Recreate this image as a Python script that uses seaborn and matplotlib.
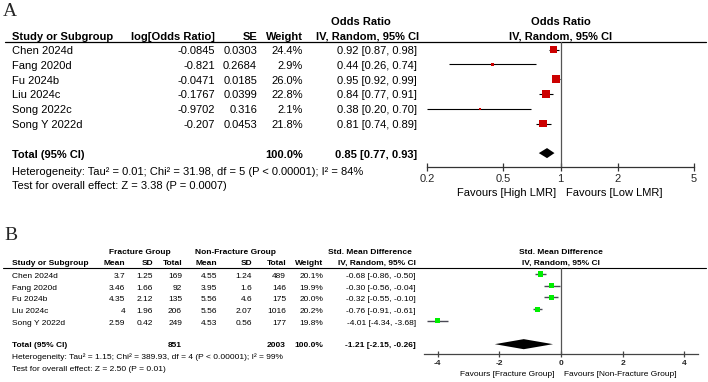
import matplotlib
matplotlib.use("Agg")
import matplotlib.pyplot as plt
import numpy as np
import pandas as pd
import seaborn as sns

# ---------------------------------------------------------------------------
# Données — panneau A (odds ratio)
# ---------------------------------------------------------------------------
studies_a = ["Chen 2024d", "Fang 2020d", "Fu 2024b", "Liu 2024c", "Song 2022c", "Song Y 2022d"]
log_or_a = ["-0.0845", "-0.821", "-0.0471", "-0.1767", "-0.9702", "-0.207"]
se_a = ["0.0303", "0.2684", "0.0185", "0.0399", "0.316", "0.0453"]
weight_a = [24.4, 2.9, 26.0, 22.8, 2.1, 21.8]
or_a = [0.92, 0.44, 0.95, 0.84, 0.38, 0.81]
lo_a = [0.87, 0.26, 0.92, 0.77, 0.20, 0.74]
hi_a = [0.98, 0.74, 0.99, 0.91, 0.70, 0.89]
total_a = (0.85, 0.77, 0.93)
ticks_a = [0.2, 0.5, 1, 2, 5]
tick_labels_a = ["0.2", "0.5", "1", "2", "5"]

# ---------------------------------------------------------------------------
# Données — panneau B (différence de moyennes standardisée)
# ---------------------------------------------------------------------------
studies_b = ["Chen 2024d", "Fang 2020d", "Fu 2024b", "Liu 2024c", "Song Y 2022d"]
mean1_b = ["3.7", "3.46", "4.35", "4", "2.59"]
sd1_b = ["1.25", "1.66", "2.12", "1.96", "0.42"]
n1_b = [169, 92, 135, 206, 249]
mean2_b = ["4.55", "3.95", "5.56", "5.56", "4.53"]
sd2_b = ["1.24", "1.6", "4.6", "2.07", "0.56"]
n2_b = [489, 146, 175, 1016, 177]
weight_b = [20.1, 19.9, 20.0, 20.2, 19.8]
smd_b = [-0.68, -0.30, -0.32, -0.76, -4.01]
lo_b = [-0.86, -0.56, -0.55, -0.91, -4.34]
hi_b = [-0.50, -0.04, -0.10, -0.61, -3.68]
total_b = (-1.21, -2.15, -0.26)
ticks_b = [-4, -2, 0, 2, 4]

sns.set_theme(style="white")
plt.rcParams["font.family"] = ["Liberation Sans", "DejaVu Sans"]

W, H = 708, 382
fig = plt.figure(figsize=(W / 100, H / 100), dpi=100)

# axe de fond en pixels pour le tableau
bg = fig.add_axes([0, 0, 1, 1])
bg.set_xlim(0, W)
bg.set_ylim(H, 0)
bg.axis("off")


def px_axes(left, right, top, bottom):
    return fig.add_axes([left / W, 1 - bottom / H, (right - left) / W, (bottom - top) / H])


def txt(x, y, s, size, ha="left", bold=False, **kw):
    bg.text(x, y, s, fontsize=size, ha=ha, va="center",
            fontweight="bold" if bold else "normal", color="black", **kw)


# ---------------------------------------------------------------------------
# Panneau A
# ---------------------------------------------------------------------------
FA = 8
y0a, dya = 49.5, 14.8
bg.text(3, 12, "A", fontsize=14, family="Liberation Serif", va="center")
txt(361, 22, "Odds Ratio", FA, ha="center", bold=True)
txt(561, 22, "Odds Ratio", FA, ha="center", bold=True)
hy = 36.5
txt(12, hy, "Study or Subgroup", FA, bold=True)
txt(215, hy, "log[Odds Ratio]", FA, ha="right", bold=True)
txt(257, hy, "SE", FA, ha="right", bold=True)
txt(303, hy, "Weight", FA, ha="right", bold=True)
txt(368, hy, "IV, Random, 95% CI", FA, ha="center", bold=True)
txt(561, hy, "IV, Random, 95% CI", FA, ha="center", bold=True)
bg.plot([5, 706], [42, 42], color="black", lw=0.9)

for i, s in enumerate(studies_a):
    y = y0a + dya * i + 1.5
    txt(12, y, s, FA)
    txt(215, y, log_or_a[i], FA, ha="right")
    txt(257, y, se_a[i], FA, ha="right")
    txt(303, y, f"{weight_a[i]:.1f}%", FA, ha="right")
    txt(417, y, f"{or_a[i]:.2f} [{lo_a[i]:.2f}, {hi_a[i]:.2f}]", FA, ha="right")

yt = y0a + dya * 7 + 1.5
txt(12, yt, "Total (95% CI)", FA, bold=True)
txt(303, yt, "100.0%", FA, ha="right", bold=True)
txt(417, yt, f"{total_a[0]:.2f} [{total_a[1]:.2f}, {total_a[2]:.2f}]", FA, ha="right", bold=True)
txt(12, 172, "Heterogeneity: Tau² = 0.01; Chi² = 31.98, df = 5 (P < 0.00001); I² = 84%", FA)
txt(12, 186, "Test for overall effect: Z = 3.38 (P = 0.0007)", FA)
txt(556, 193, "Favours [High LMR]", FA, ha="right")
txt(566, 193, "Favours [Low LMR]", FA)

ax_a = px_axes(427, 694, 42, 167)
df_a = pd.DataFrame({"or": or_a, "row": np.arange(len(or_a)), "w": weight_a})
ax_a.hlines(df_a["row"], lo_a, hi_a, color="black", lw=0.8, zorder=2)
sns.scatterplot(data=df_a, x="or", y="row", size="w", sizes=(0, 36), size_norm=(0, 28),
                marker="s", color="#cc0000", edgecolor="#cc0000", linewidth=0,
                legend=False, ax=ax_a, zorder=3)
ax_a.axvline(1, color="#555555", lw=0.9, zorder=1)
rt = len(or_a) + 1
ax_a.fill([total_a[1], total_a[0], total_a[2], total_a[0]],
          [rt, rt - 0.34, rt, rt + 0.34], color="black", lw=0, zorder=3)
ax_a.set_xscale("log")
ax_a.set_xlim(ticks_a[0], ticks_a[-1])
ax_a.set_ylim(7.94, -0.51)
ax_a.set_xticks(ticks_a)
ax_a.set_xticklabels(tick_labels_a, fontsize=FA)
ax_a.minorticks_off()
ax_a.set_yticks([])
ax_a.set_xlabel("")
ax_a.set_ylabel("")
ax_a.patch.set_alpha(0)
for side in ["top", "left", "right"]:
    ax_a.spines[side].set_visible(False)
ax_a.spines["bottom"].set_color("#333333")
ax_a.spines["bottom"].set_linewidth(0.9)
ax_a.tick_params(axis="x", direction="inout", length=6, width=0.9, color="#333333", pad=2, bottom=True)

# ---------------------------------------------------------------------------
# Panneau B
# ---------------------------------------------------------------------------
FB = 6
y0b, dyb = 274, 11.7
bg.text(4, 235, "B", fontsize=14, family="Liberation Serif", va="center")
txt(140, 252, "Fracture Group", FB, ha="center", bold=True)
txt(235, 252, "Non-Fracture Group", FB, ha="center", bold=True)
txt(370, 252, "Std. Mean Difference", FB, ha="center", bold=True)
txt(561, 252, "Std. Mean Difference", FB, ha="center", bold=True)
hb = 263.5
txt(12, hb, "Study or Subgroup", FB, bold=True)
txt(125, hb, "Mean", FB, ha="right", bold=True)
txt(153, hb, "SD", FB, ha="right", bold=True)
txt(182, hb, "Total", FB, ha="right", bold=True)
txt(217, hb, "Mean", FB, ha="right", bold=True)
txt(252, hb, "SD", FB, ha="right", bold=True)
txt(286, hb, "Total", FB, ha="right", bold=True)
txt(323, hb, "Weight", FB, ha="right", bold=True)
txt(377, hb, "IV, Random, 95% CI", FB, ha="center", bold=True)
txt(561, hb, "IV, Random, 95% CI", FB, ha="center", bold=True)
bg.plot([3, 706], [268, 268], color="black", lw=0.8)

for i, s in enumerate(studies_b):
    y = y0b + dyb * i + 2.5
    txt(12, y, s, FB)
    txt(125, y, mean1_b[i], FB, ha="right")
    txt(153, y, sd1_b[i], FB, ha="right")
    txt(182, y, str(n1_b[i]), FB, ha="right")
    txt(217, y, mean2_b[i], FB, ha="right")
    txt(252, y, sd2_b[i], FB, ha="right")
    txt(286, y, str(n2_b[i]), FB, ha="right")
    txt(323, y, f"{weight_b[i]:.1f}%", FB, ha="right")
    txt(416, y, f"{smd_b[i]:.2f} [{lo_b[i]:.2f}, {hi_b[i]:.2f}]", FB, ha="right")

ytb = y0b + dyb * 6 + 1.5
txt(12, ytb, "Total (95% CI)", FB, bold=True)
txt(182, ytb, str(sum(n1_b)), FB, ha="right", bold=True)
txt(286, ytb, str(sum(n2_b)), FB, ha="right", bold=True)
txt(323, ytb, "100.0%", FB, ha="right", bold=True)
txt(416, ytb, f"{total_b[0]:.2f} [{total_b[1]:.2f}, {total_b[2]:.2f}]", FB, ha="right", bold=True)
txt(12, 357.5, "Heterogeneity: Tau² = 1.15; Chi² = 389.93, df = 4 (P < 0.00001); I² = 99%", FB)
txt(12, 369.5, "Test for overall effect: Z = 2.50 (P = 0.01)", FB)
txt(554, 374, "Favours [Fracture Group]", FB, ha="right")
txt(564, 374, "Favours [Non-Fracture Group]", FB)

ax_b = px_axes(424, 698, 268, 354)
df_b = pd.DataFrame({"smd": smd_b, "row": np.arange(len(smd_b)), "w": weight_b})
ax_b.hlines(df_b["row"], lo_b, hi_b, color="#4a4a55", lw=1.0, zorder=2)
sns.scatterplot(data=df_b, x="smd", y="row", size="w", sizes=(0, 14), size_norm=(0, 21),
                marker="s", color="#00ee00", edgecolor="#00ee00", linewidth=0,
                legend=False, ax=ax_b, zorder=3)
ax_b.axvline(0, color="#555555", lw=0.9, zorder=1)
rtb = len(smd_b) + 1
ax_b.fill([total_b[1], total_b[0], total_b[2], total_b[0]],
          [rtb, rtb - 0.43, rtb, rtb + 0.43], color="black", lw=0, zorder=3)
ax_b.set_xlim(-4.45, 4.45)
ax_b.set_ylim(6.84, -0.51)
ax_b.set_xticks(ticks_b)
ax_b.set_xticklabels([str(t) for t in ticks_b], fontsize=FB, fontweight="bold")
ax_b.set_yticks([])
ax_b.set_xlabel("")
ax_b.set_ylabel("")
ax_b.patch.set_alpha(0)
for side in ["top", "left", "right"]:
    ax_b.spines[side].set_visible(False)
ax_b.spines["bottom"].set_color("#444444")
ax_b.spines["bottom"].set_linewidth(0.9)
ax_b.tick_params(axis="x", direction="inout", length=5, width=0.9, color="#444444", pad=1.5, bottom=True)

fig.savefig("out.png", dpi=100)
